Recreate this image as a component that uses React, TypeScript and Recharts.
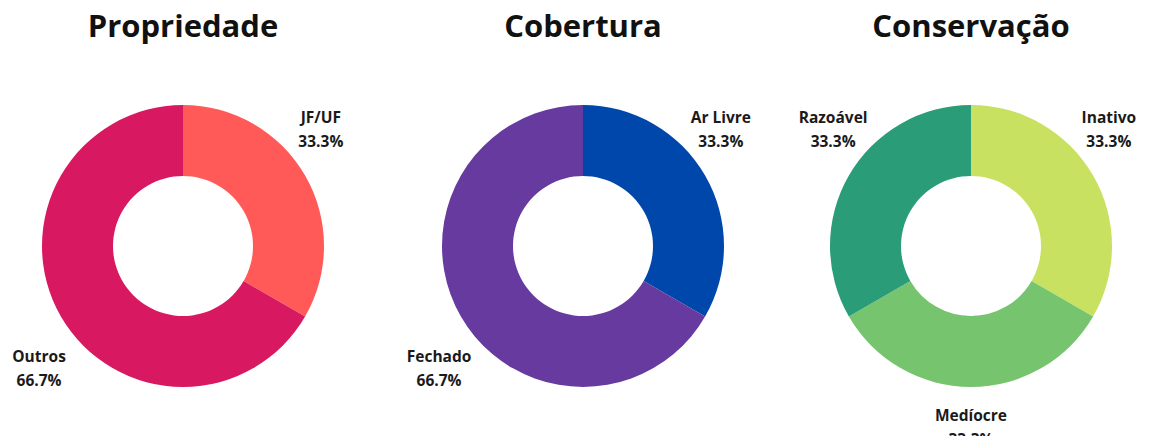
import React from 'react';
import { PieChart, Pie, Cell } from 'recharts';

const propriedadeNames = ['JF/UF', 'Outros'];
const propriedadeValues = [1, 2];
const propriedadeColors = ['#FF5A58', '#D81860'];

const coberturaNames = ['Ar Livre', 'Fechado'];
const coberturaValues = [1, 2];
const coberturaColors = ['#0047AB', '#663A9E'];

const conservacaoNames = ['Inativo', 'Medíocre', 'Razoável'];
const conservacaoValues = [1, 1, 1];
const conservacaoColors = ['#C8E160', '#77C46E', '#2A9D78'];

const titles = ['Propriedade', 'Cobertura', 'Conservação'];

const FONT = '"Open Sans", sans-serif';
const RAD = Math.PI / 180;

const toRows = (names: string[], values: number[]) =>
  names.map((name, i) => ({ name, value: values[i] }));

// labels sit outside the ring, nudged a little toward the diagonals
const renderLabel = (props: any) => {
  const { cx, cy, midAngle, outerRadius, name, percent } = props;
  const angle = midAngle - 12 * Math.sin(4 * (midAngle - 45) * RAD);
  const r = outerRadius + 32 + 24 * percent;
  const x = cx + r * Math.cos(angle * RAD);
  const y = cy - r * Math.sin(angle * RAD);
  return (
    <text
      x={x}
      y={y}
      textAnchor="middle"
      fill="#1a1a1a"
      fontFamily={FONT}
      fontWeight={700}
      fontSize={15.5}
    >
      <tspan x={x} y={y - 6}>{name}</tspan>
      <tspan x={x} y={y + 18}>{(percent * 100).toFixed(1)}%</tspan>
    </text>
  );
};

// PieChart adds its 5px margin to cx / cy
const charts = [
  { rows: toRows(propriedadeNames, propriedadeValues), colors: propriedadeColors, cx: 178 },
  { rows: toRows(coberturaNames, coberturaValues), colors: coberturaColors, cx: 578 },
  { rows: toRows(conservacaoNames, conservacaoValues), colors: conservacaoColors, cx: 966 },
];

export default function App() {
  return (
    <div style={{ position: 'absolute', left: 0, top: 0, width: 1153, height: 436, background: '#fff' }}>
      {titles.map((t, i) => (
        <div
          key={t}
          style={{
            position: 'absolute',
            left: charts[i].cx + 5 - 200,
            width: 400,
            top: 10,
            textAlign: 'center',
            fontFamily: FONT,
            fontWeight: 700,
            fontSize: 31,
            lineHeight: '30px',
            color: '#111',
          }}
        >
          {t}
        </div>
      ))}
      <PieChart width={1153} height={436} style={{ position: 'absolute', left: 0, top: 0 }}>
        {charts.map((c, i) => (
          <Pie
            key={i}
            data={c.rows}
            dataKey="value"
            nameKey="name"
            cx={c.cx}
            cy={241}
            innerRadius={70}
            outerRadius={141}
            startAngle={90}
            endAngle={-270}
            stroke="none"
            label={renderLabel}
            labelLine={false}
            isAnimationActive={false}
          >
            {c.rows.map((r, j) => (
              <Cell key={r.name} fill={c.colors[j]} />
            ))}
          </Pie>
        ))}
      </PieChart>
    </div>
  );
}
